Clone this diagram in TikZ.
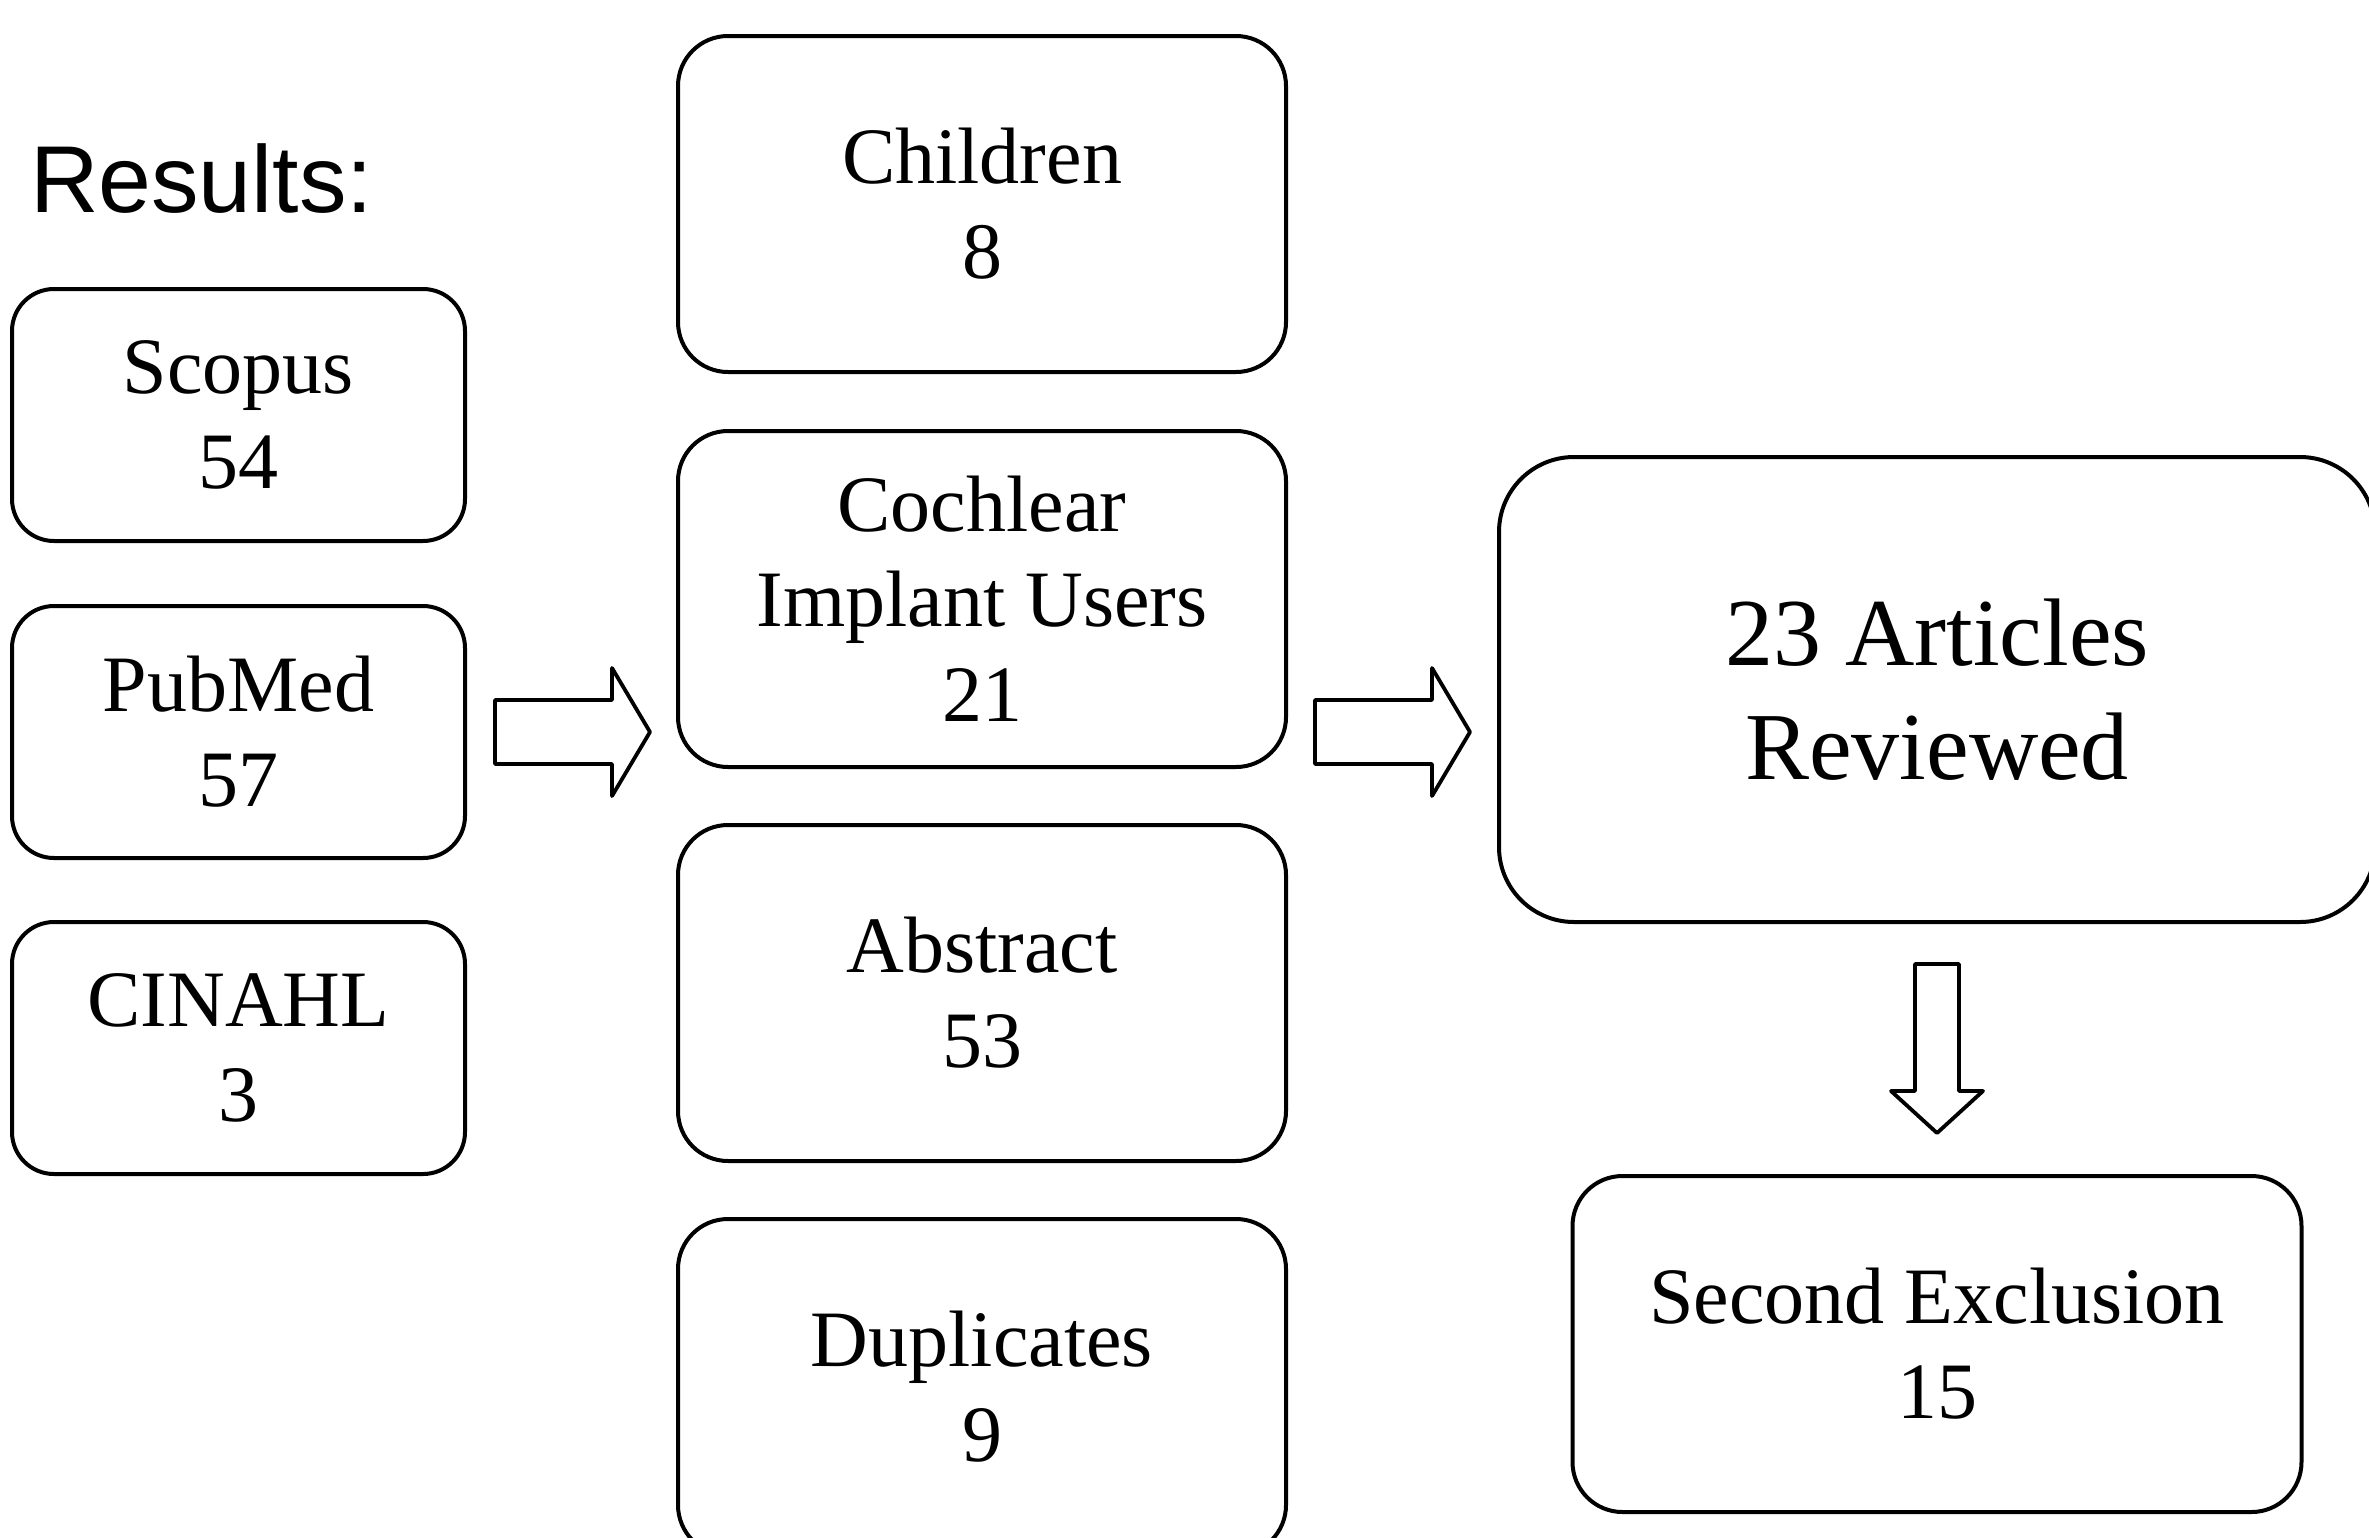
\documentclass[tikz,border=0pt]{standalone}
\usepackage{fontspec}
\setmainfont{Liberation Serif}
\newfontfamily\arialfont{Liberation Sans}
\usepackage{tikz}
\usetikzlibrary{calc}
\usetikzlibrary{positioning}

\begin{document}
\begin{tikzpicture}[x=1pt,y=-1pt,line width=4pt,
    every node/.style = {align=center, outer sep=0pt, inner sep=0pt},
    srcbox/.style = {draw, rounded corners=42pt, minimum width=453pt, minimum height=252pt, font=\fontsize{80}{95}\selectfont},
    midbox/.style = {draw, rounded corners=50pt, minimum width=608pt, minimum height=336pt, font=\fontsize{80}{95}\selectfont},
    bigbox/.style = {draw, rounded corners=75pt, minimum width=876pt, minimum height=465pt, font=\fontsize{96}{114}\selectfont},
    blockarrow/.style = {draw, line join=round, line width=3.8pt}]
\useasboundingbox (0,0) rectangle (2369,1537);
\node[anchor=base west, font=\arialfont\fontsize{95}{110}\selectfont] (results) at (30,212) {Results:};
% search sources
\node[srcbox] (scopus) at (238.5,415) {Scopus\\54};
\node[srcbox, below=65pt of scopus] (pubmed) {PubMed\\57};
\node[srcbox, below=64pt of pubmed] (cinahl) {CINAHL\\3};
% exclusions
\node[midbox] (children) at (982,204) {Children\\8};
\node[midbox, below=59pt of children] (cochlear) {Cochlear\\Implant Users\\21};
\node[midbox, below=58pt of cochlear] (abstract) {Abstract\\53};
\node[midbox, below=58pt of abstract] (duplicates) {Duplicates\\9};
% result
\node[bigbox] (reviewed) at (1937,689.5) {23 Articles\\Reviewed};
\node[midbox, minimum width=729pt, below=254pt of reviewed] (second) {Second Exclusion\\15};
% block arrows
\draw[blockarrow] ($(pubmed.east)+(30,0)$) ++(0,-32) -- ++(117,0) -- ++(0,-32) -- ++(38,64) -- ++(-38,64) -- ++(0,-32) -- ++(-117,0) -- cycle;
\draw[blockarrow] ($(cochlear.east |- pubmed.east)+(29,0)$) ++(0,-32) -- ++(117,0) -- ++(0,-32) -- ++(38,64) -- ++(-38,64) -- ++(0,-32) -- ++(-117,0) -- cycle;
\draw[blockarrow] ($(reviewed.south)+(0,42)$) ++(-22,0) -- ++(44,0) -- ++(0,127) -- ++(24,0) -- ++(-46,42) -- ++(-46,-42) -- ++(24,0) -- cycle;
\end{tikzpicture}
\end{document}
